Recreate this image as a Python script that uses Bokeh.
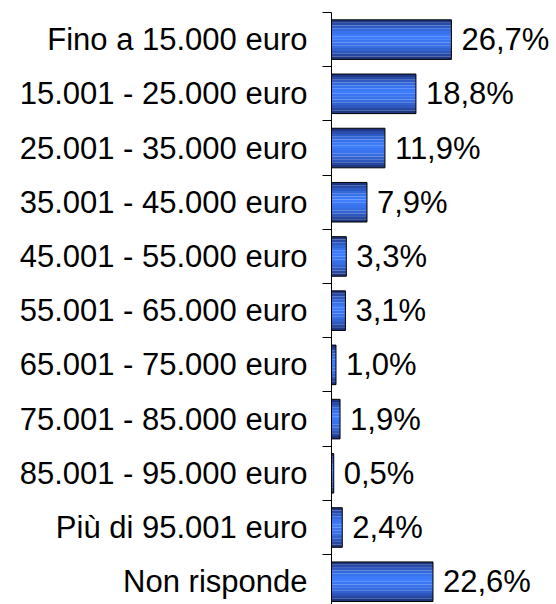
from bokeh.plotting import figure
from bokeh.models import Range1d, FixedTicker
from bokeh.core.properties import value
from bokeh.embed import file_html
from bokeh.resources import INLINE
import math

categories = [
    "Fino a 15.000 euro",
    "15.001 - 25.000 euro",
    "25.001 - 35.000 euro",
    "35.001 - 45.000 euro",
    "45.001 - 55.000 euro",
    "55.001 - 65.000 euro",
    "65.001 - 75.000 euro",
    "75.001 - 85.000 euro",
    "85.001 - 95.000 euro",
    "Più di 95.001 euro",
    "Non risponde",
]
percentages = [26.7, 18.8, 11.9, 7.9, 3.3, 3.1, 1.0, 1.9, 0.5, 2.4, 22.6]

FONT = "Liberation Sans"
FS = "31px"

n = len(categories)
centers = [i + 0.5 for i in range(n)]
boundaries = [float(i) for i in range(n)]
value_labels = [f"{v:.1f}".replace(".", ",") + "%" for v in percentages]

p = figure(
    width=556, height=604,
    x_range=Range1d(0, 50.1),
    y_range=Range1d(start=10.92, end=0),
    x_axis_location=None,
    output_backend="svg", toolbar_location=None,
    min_border_left=331, min_border_right=0, min_border_top=12, min_border_bottom=0,
)
p.outline_line_color = None
p.xgrid.visible = False
p.ygrid.visible = False
p.background_fill_color = "white"
p.border_fill_color = "white"

# cylinder-like gradient made of horizontal bands
bar_h = 0.73
nb = 14
dark = (24, 40, 105)
bright = (62, 126, 255)
for k in range(nb):
    t = (k + 0.5) / nb
    f = math.sin(math.pi * t) ** 0.8
    if t > 0.5:
        f *= 0.92
    c = tuple(int(dark[j] + (bright[j] - dark[j]) * f) for j in range(3))
    col = "#%02x%02x%02x" % c
    off = -bar_h / 2 + (k + 0.5) * bar_h / nb
    p.hbar(y=[cy + off for cy in centers], right=percentages, left=0,
           height=bar_h / nb * 1.02, fill_color=col, line_color=None)

p.hbar(y=centers, right=percentages, left=0, height=bar_h,
       fill_color=None, line_color="black", line_width=1)

p.text(x=percentages, y=centers, text=value_labels, x_offset=10,
       text_baseline="middle", text_align="left",
       text_font=value(FONT), text_font_size=FS, text_color="black")

ax = p.yaxis[0]
ax.ticker = FixedTicker(ticks=centers, minor_ticks=boundaries)
ax.major_label_overrides = {c: lab for c, lab in zip(centers, categories)}
ax.axis_line_color = "black"
ax.axis_line_width = 1
ax.major_tick_out = 0
ax.major_tick_in = 0
ax.minor_tick_out = 9
ax.minor_tick_in = 0
ax.minor_tick_line_color = "black"
ax.major_label_standoff = 15
ax.major_label_text_font = FONT
ax.major_label_text_font_size = FS
ax.major_label_text_color = "black"

open("out.html", "w").write(file_html(p, INLINE))
